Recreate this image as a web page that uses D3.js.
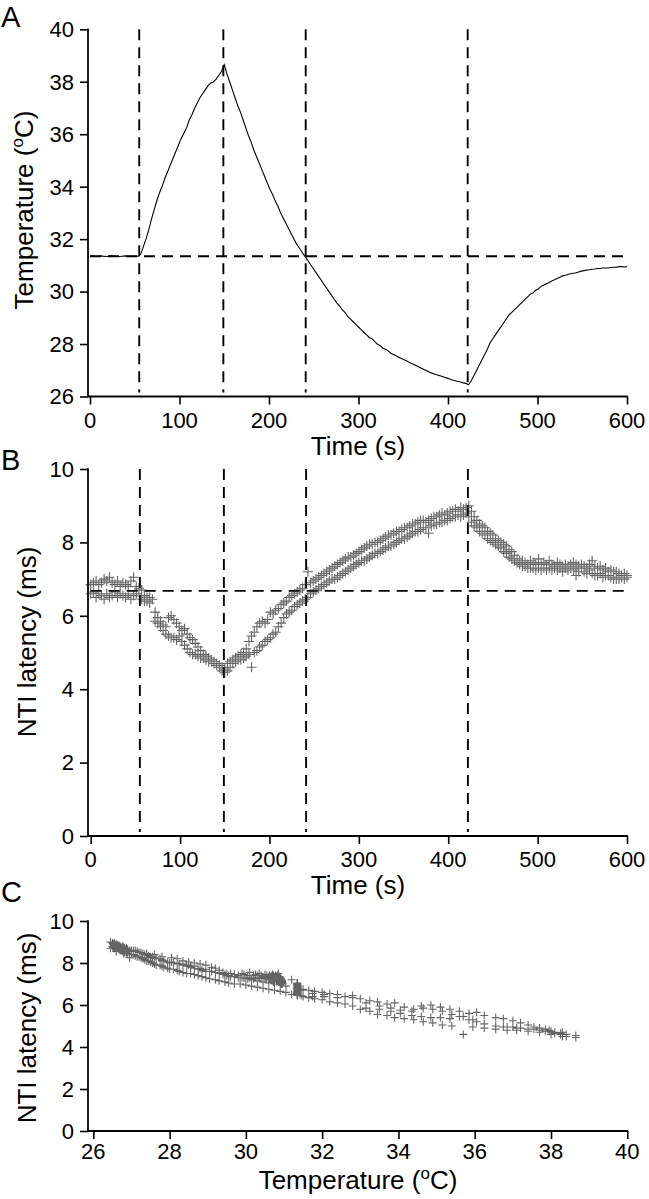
<!DOCTYPE html>
<html><head><meta charset="utf-8">
<script src="https://cdn.jsdelivr.net/npm/d3@7"></script>
<style>
html,body{margin:0;padding:0;background:#fff;}
text{font-family:"Liberation Sans",Arial,Helvetica,sans-serif;fill:#000;}
</style></head>
<body>
<svg id="chart" width="649" height="1199"></svg>
<script>
// ---- Data (time step 3 s, 0..600) ----
const timeStart = 0, timeStep = 3;
const temperature = [
31.35,31.36,31.34,31.35,31.36,31.35,31.34,31.35,31.36,31.35,
31.35,31.34,31.35,31.36,31.35,31.35,31.34,31.35,31.35,31.45,
31.75,32.05,32.4,32.8,33.15,33.5,33.8,34.05,34.35,34.6,
34.85,35.1,35.35,35.6,35.85,36.05,36.25,36.55,36.75,37.0,
37.2,37.4,37.55,37.7,37.85,37.95,38.0,38.1,38.25,38.4,
38.65,38.3,38.0,37.7,37.4,37.1,36.85,36.55,36.25,35.95,
35.7,35.4,35.15,34.9,34.65,34.4,34.15,33.9,33.7,33.45,
33.25,33.0,32.8,32.6,32.4,32.2,32.0,31.8,31.65,31.5,
31.35,31.2,31.05,30.9,30.75,30.6,30.45,30.3,30.15,30.0,
29.85,29.7,29.55,29.45,29.3,29.2,29.05,28.95,28.85,28.75,
28.65,28.55,28.45,28.35,28.25,28.2,28.1,28.0,27.95,27.85,
27.8,27.75,27.65,27.6,27.55,27.5,27.45,27.4,27.35,27.3,
27.25,27.2,27.15,27.1,27.05,27.0,26.95,26.9,26.87,26.83,
26.8,26.77,26.73,26.7,26.67,26.63,26.6,26.57,26.55,26.52,
26.5,26.45,26.6,26.8,27.0,27.2,27.4,27.6,27.8,28.05,
28.2,28.35,28.5,28.65,28.8,28.95,29.1,29.2,29.3,29.4,
29.5,29.6,29.7,29.8,29.9,29.95,30.05,30.1,30.2,30.25,
30.3,30.35,30.4,30.45,30.5,30.55,30.6,30.62,30.65,30.68,
30.7,30.72,30.75,30.78,30.8,30.82,30.83,30.85,30.86,30.88,
30.88,30.9,30.9,30.9,30.92,30.93,30.93,30.95,30.95,30.94,
30.95];
const latencyUpper = [
6.85,6.9,6.95,6.85,6.9,7.0,6.95,7.05,6.9,6.85,
6.95,6.8,6.9,6.85,6.8,6.95,7.05,6.8,6.75,6.7,
6.55,6.5,6.5,6.45,6.1,5.95,5.85,5.75,5.7,5.95,
6.0,5.9,5.8,5.7,5.6,5.65,5.5,5.4,5.35,5.25,
5.15,5.05,4.95,4.9,4.85,4.8,4.75,4.7,4.65,4.6,
4.55,4.7,4.75,4.8,4.85,4.9,4.95,5.0,5.1,5.3,
5.45,5.55,5.7,5.8,5.85,5.8,5.9,6.1,6.05,6.15,
6.2,6.3,6.35,6.4,6.5,6.55,6.6,6.65,6.7,6.75,
6.85,7.2,6.9,6.95,7.0,7.05,7.1,7.15,7.2,7.25,
7.3,7.35,7.4,7.45,7.5,7.55,7.6,7.6,7.65,7.7,
7.75,7.8,7.85,7.9,7.95,7.95,8.0,8.0,8.05,8.1,
8.15,8.2,8.2,8.25,8.3,8.3,8.35,8.4,8.4,8.45,
8.5,8.5,8.55,8.6,8.6,8.55,8.6,8.65,8.7,8.7,
8.75,8.8,8.75,8.8,8.85,8.85,8.9,8.85,8.95,8.9,
8.95,9.0,8.85,8.7,8.6,8.5,8.45,8.4,8.3,8.25,
8.2,8.1,8.05,8.0,7.95,7.9,7.8,7.75,7.65,7.55,
7.5,7.5,7.45,7.4,7.5,7.45,7.4,7.55,7.4,7.45,
7.4,7.5,7.4,7.35,7.45,7.4,7.35,7.4,7.35,7.4,
7.45,7.4,7.35,7.4,7.35,7.3,7.4,7.5,7.35,7.3,
7.35,7.25,7.3,7.2,7.25,7.2,7.2,7.15,7.1,7.15,
7.1];
const latencyLower = [
6.6,6.65,6.5,6.6,6.55,6.45,6.6,6.5,6.55,6.65,
6.5,6.6,6.55,6.5,6.6,6.45,6.55,6.6,6.7,6.45,
6.4,6.4,6.35,6.45,5.85,5.8,5.7,5.6,5.5,5.45,
5.4,5.4,5.35,5.45,5.3,5.2,5.1,5.0,4.95,4.95,
4.9,4.85,4.85,4.8,4.75,4.75,4.7,4.65,4.6,4.5,
4.45,4.5,4.6,4.7,4.75,4.8,4.8,4.85,4.9,4.95,
4.6,5.0,5.05,5.15,5.2,5.3,5.35,5.4,5.5,5.55,
5.7,5.8,5.95,6.05,6.1,6.15,6.25,6.3,6.35,6.4,
6.45,6.5,6.6,6.65,6.7,6.75,6.8,6.85,6.9,6.95,
7.0,7.0,7.05,7.1,7.15,7.2,7.25,7.3,7.35,7.4,
7.45,7.5,7.5,7.55,7.6,7.65,7.7,7.7,7.75,7.8,
7.85,7.9,7.9,7.95,8.0,8.05,8.1,8.1,8.15,8.2,
8.25,8.3,8.3,8.35,8.4,8.4,8.25,8.45,8.5,8.5,
8.55,8.55,8.6,8.6,8.65,8.7,8.7,8.75,8.7,8.75,
8.8,8.7,8.55,8.45,8.4,8.3,8.25,8.2,8.1,8.05,
8.0,7.95,7.9,7.85,7.75,7.7,7.6,7.55,7.5,7.45,
7.4,7.35,7.35,7.3,7.3,7.3,7.25,7.3,7.25,7.3,
7.25,7.3,7.25,7.3,7.25,7.3,7.2,7.3,7.25,7.3,
7.25,7.1,7.2,7.3,7.2,7.15,7.25,7.15,7.1,7.1,
7.15,7.05,7.1,7.1,7.05,7.0,7.0,7.0,7.05,7.0,
7.05];
const eventTimes = [55, 149, 241, 422];
const baselineTemp = 31.35;
const baselineLatency = 6.68;
const timeTicks = [0,100,200,300,400,500,600];
const tempTicks = [26,28,30,32,34,36,38,40];
const latencyTicks = [0,2,4,6,8,10];
const tempTicksC = [26,28,30,32,34,36,38,40];

const times = temperature.map((_, i) => timeStart + i * timeStep);

const svg = d3.select("#chart");
const FONT_TICK = 22, FONT_LAB = 26;

function panel(cfg) {
  const g = svg.append("g");
  const x = d3.scaleLinear().domain(cfg.xDomain).range(cfg.xRange);
  const y = d3.scaleLinear().domain(cfg.yDomain).range(cfg.yRange);
  const axisX = cfg.axisX;
  const yBase = y(cfg.yDomain[0]);
  const xa = g.append("g").attr("transform", `translate(0,${yBase})`)
    .call(d3.axisBottom(x).tickValues(cfg.xTicks).tickSize(8).tickSizeOuter(0).tickFormat(""));
  const ya = g.append("g").attr("transform", `translate(${axisX},0)`)
    .call(d3.axisLeft(y).tickValues(cfg.yTicks).tickSize(8).tickSizeOuter(0).tickFormat(""));
  [xa, ya].forEach(a => {
    a.select(".domain").remove();
    a.selectAll("line").attr("stroke", "#000").attr("stroke-width", 1.6);
  });
  cfg.xTicks.forEach(v => {
    g.append("text").attr("x", x(v)).attr("y", yBase + cfg.xTickOffset)
      .attr("text-anchor", "middle").attr("font-size", FONT_TICK).text(v);
  });
  cfg.yTicks.forEach(v => {
    g.append("text").attr("x", axisX - 14).attr("y", y(v) + 0.358 * FONT_TICK)
      .attr("text-anchor", "end").attr("font-size", FONT_TICK).text(v);
  });
  g.append("line").attr("x1", axisX).attr("x2", x(cfg.xDomain[1]) + 0.8)
    .attr("y1", yBase).attr("y2", yBase)
    .attr("stroke", "#000").attr("stroke-width", 1.8);
  g.append("line").attr("x1", axisX).attr("x2", axisX)
    .attr("y1", y(cfg.yDomain[1]) - 0.8).attr("y2", yBase)
    .attr("stroke", "#000").attr("stroke-width", 1.8);
  g.append("text").attr("x", cfg.letterPos[0]).attr("y", cfg.letterPos[1])
    .attr("font-size", 29).text(cfg.letter);
  const xl = g.append("text").attr("x", cfg.xLabelPos[0]).attr("y", cfg.xLabelPos[1])
    .attr("text-anchor", "middle").attr("font-size", FONT_LAB);
  cfg.xLabel(xl);
  const yl = g.append("text")
    .attr("transform", `translate(${cfg.yLabelPos[0]},${cfg.yLabelPos[1]}) rotate(-90)`)
    .attr("text-anchor", "middle").attr("font-size", FONT_LAB);
  cfg.yLabel(yl);
  return {g, x, y};
}

function degLabel(sel, pre) {
  sel.append("tspan").text(pre + "(");
  sel.append("tspan").attr("font-size", 17).attr("dy", -10).text("o");
  sel.append("tspan").attr("dy", 10).text("C)");
}

function dashedLines(p, yBase, yTopVal, yBotVal) {
  const dash = "11,7";
  eventTimes.forEach(t => {
    p.g.append("line").attr("x1", p.x(t)).attr("x2", p.x(t))
      .attr("y1", p.y(yTopVal)).attr("y2", p.y(yBotVal) - 4)
      .attr("stroke", "#000").attr("stroke-width", 1.9).attr("stroke-dasharray", dash);
  });
  p.g.append("line").attr("x1", p.x(0)).attr("x2", p.x(600))
    .attr("y1", p.y(yBase)).attr("y2", p.y(yBase))
    .attr("stroke", "#000").attr("stroke-width", 1.9).attr("stroke-dasharray", dash);
}

function plusMarks(p, pts, size) {
  const h = size / 2;
  p.g.append("path")
    .attr("d", pts.map(([a, b]) => {
      const cx = p.x(a), cy = p.y(b);
      return `M${cx - h},${cy}H${cx + h}M${cx},${cy - h}V${cy + h}`;
    }).join(""))
    .attr("fill", "none").attr("stroke", "#222").attr("stroke-width", 1.1)
    .attr("stroke-opacity", 0.7);
}

// ---- Panel A ----
const A = panel({
  xDomain: [0, 600], xRange: [90, 627], yDomain: [26, 40], yRange: [396.5, 29.3],
  axisX: 88, xTicks: timeTicks, yTicks: tempTicks, xTickOffset: 31.5,
  letter: "A", letterPos: [1, 27],
  xLabelPos: [358, 455], xLabel: s => s.text("Time (s)"),
  yLabelPos: [33, 210], yLabel: s => degLabel(s, "Temperature ")
});
dashedLines(A, baselineTemp, 40, 26);
A.g.append("path").datum(times.map((t, i) => [t, temperature[i]]))
  .attr("d", d3.line().x(d => A.x(d[0])).y(d => A.y(d[1])))
  .attr("fill", "none").attr("stroke", "#000").attr("stroke-width", 1.1);

// ---- Panel B ----
const B = panel({
  xDomain: [0, 600], xRange: [90.7, 627], yDomain: [0, 10], yRange: [836, 469],
  axisX: 88, xTicks: timeTicks, yTicks: latencyTicks, xTickOffset: 31,
  letter: "B", letterPos: [1, 470],
  xLabelPos: [358, 894], xLabel: s => s.text("Time (s)"),
  yLabelPos: [36, 642], yLabel: s => s.text("NTI latency (ms)")
});
dashedLines(B, baselineLatency, 10, 0);
const ptsB = times.map((t, i) => [t, latencyUpper[i]])
  .concat(times.map((t, i) => [t, latencyLower[i]]));
plusMarks(B, ptsB, 10);

// ---- Panel C ----
const C = panel({
  xDomain: [26, 40], xRange: [93.3, 627.3], yDomain: [0, 10], yRange: [1131, 921],
  axisX: 88, xTicks: tempTicksC, yTicks: latencyTicks, xTickOffset: 28,
  letter: "C", letterPos: [1, 902],
  xLabelPos: [358, 1189], xLabel: s => degLabel(s, "Temperature "),
  yLabelPos: [36, 1028], yLabel: s => s.text("NTI latency (ms)")
});
const ptsC = temperature.map((T, i) => [T, latencyUpper[i]])
  .concat(temperature.map((T, i) => [T, latencyLower[i]]));
plusMarks(C, ptsC, 8);
</script>
</body></html>
